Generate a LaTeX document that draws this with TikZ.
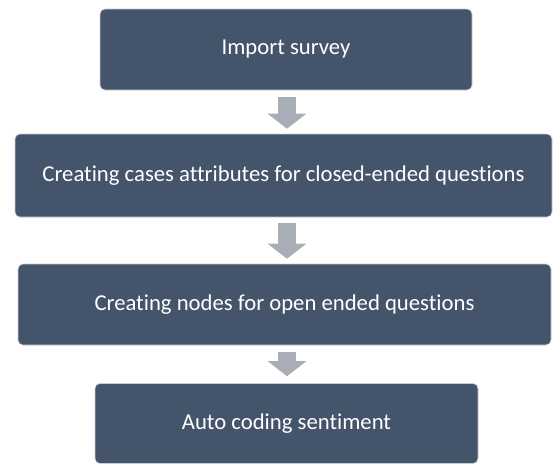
\documentclass[tikz,border=0pt]{standalone}
\usepackage{fontspec}
\setmainfont{Carlito}[Ligatures={NoCommon}]
\usetikzlibrary{arrows.meta}
\definecolor{boxfill}{HTML}{44546A}
\definecolor{boxedge}{HTML}{C9CED6}
\definecolor{arrowgray}{HTML}{A9ADB5}
\tikzset{
  stepbox/.style={draw=boxedge, line width=0.6pt, fill=boxfill, rounded corners=5pt,
    text=white, inner sep=0pt, font=\fontsize{22.7}{27}\selectfont},
  flow/.style={draw=arrowgray, line width=18pt,
    -{Triangle[width=38pt,length=15pt]}}
}
\begin{document}
\begin{tikzpicture}[x=1pt,y=1pt]
  \useasboundingbox (0,0) rectangle (554,-464);
  \coordinate (ax) at (287,0);
  % process steps
  \node[stepbox, minimum width=372pt, minimum height=81pt] (import) at (286,-49.5) {Import survey};
  \node[stepbox, minimum width=537pt, minimum height=83pt] (cases) at (283.5,-175.5) {Creating cases attributes for closed-ended questions};
  \node[stepbox, minimum width=533pt, minimum height=81pt] (nodes) at (284.5,-304.5) {Creating nodes for open ended questions};
  \node[stepbox, minimum width=383pt, minimum height=80pt] (auto) at (286.5,-423.5) {Auto coding sentiment};
  % block arrows between the steps
  \draw[flow, shorten <=7pt, shorten >=5pt] (import.south -| ax) -- (cases.north -| ax);
  \draw[flow, shorten <=6pt, shorten >=5pt] (cases.south -| ax) -- (nodes.north -| ax);
  \draw[flow, shorten <=7pt, shorten >=7pt] (nodes.south -| ax) -- (auto.north -| ax);
\end{tikzpicture}
\end{document}
